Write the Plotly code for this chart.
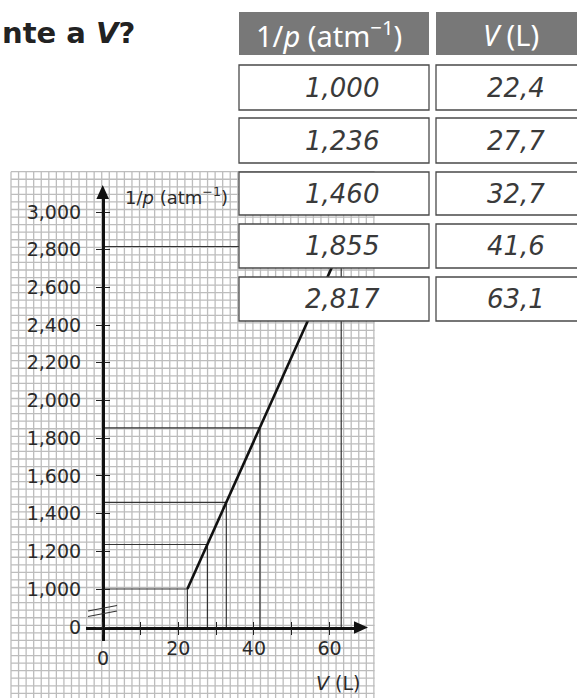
import numpy as np
import plotly.graph_objects as go

# ---------------- data ----------------
inv_p = [1.000, 1.236, 1.460, 1.855, 2.817]          # 1/p (atm^-1)
volume = [22.4, 27.7, 32.7, 41.6, 63.1]              # V (L)
y_tick_values = [0.0, 1.0, 1.2, 1.4, 1.6, 1.8, 2.0, 2.2, 2.4, 2.6, 2.8, 3.0]
x_label_values = [20, 40, 60]
x_tick_step = 10
header_labels = ["1/<i>p</i> (atm<sup>−1</sup>)", "<i>V</i> (L)"]
title_text = "nte a <i>V</i>?"
x_title = "<i>V</i> (L)"
y_title = "1/<i>p</i> (atm<sup>−1</sup>)"


def comma(v, nd):
    return f"{v:.{nd}f}".replace(".", ",")


# ---------------- geometry (pixels) ----------------
W, H = 577, 698
X0_PX = 102.7        # V = 0
PX_PER_L = 3.78
Y1_PX = 589.0        # 1/p = 1.000
PX_PER_UNIT = 188.5
XAXIS_PY = 627.5     # x axis (broken scale, label 0)


def v_of(px):
    return (px - X0_PX) / PX_PER_L


def p_of(py):
    return 1.0 + (Y1_PX - py) / PX_PER_UNIT


def fx(px):
    return px / W


def fy(py):
    return 1 - py / H


BREAK_P = p_of(XAXIS_PY)
y_tick_pos = [BREAK_P if v == 0 else v for v in y_tick_values]
y_tick_text = ["0" if v == 0 else comma(v, 3) for v in y_tick_values]

fig = go.Figure()

# ---------------- graph paper ----------------
G_LEFT, G_RIGHT, G_TOP, G_BOTTOM = 11.0, 374.5, 171.7, 698.0
G_STEP = 7.56
gx, gy = [], []
px = G_LEFT
while px <= G_RIGHT + 0.1:
    gx += [v_of(px), v_of(px), None]
    gy += [p_of(G_TOP), p_of(G_BOTTOM), None]
    px += G_STEP
py = G_TOP
while py <= G_BOTTOM + 0.1:
    gx += [v_of(G_LEFT), v_of(G_RIGHT), None]
    gy += [p_of(py), p_of(py), None]
    py += G_STEP
fig.add_trace(go.Scatter(x=gx, y=gy, mode="lines", hoverinfo="skip",
                         line=dict(color="#bdbdbd", width=1.3), showlegend=False))

# ---------------- reference lines ----------------
rx, ry = [], []
for v, p in zip(volume, inv_p):
    rx += [0, v, None, v, v, None]
    ry += [p, p, None, p, BREAK_P, None]
fig.add_trace(go.Scatter(x=rx, y=ry, mode="lines", hoverinfo="skip",
                         line=dict(color="#333333", width=1.2), showlegend=False))

# ---------------- data line ----------------
fig.add_trace(go.Scatter(x=volume, y=inv_p, mode="lines",
                         line=dict(color="#111111", width=2.6), showlegend=False))

# ---------------- axes subplot (display only) ----------------
AX_L, AX_R = 86.0, 362.0
AY_B, AY_T = 641.0, 195.0
fig.add_trace(go.Scatter(x=[None], y=[None], xaxis="x2", yaxis="y2", showlegend=False))
fig.add_trace(go.Scatter(x=[None], y=[None], xaxis="x3", yaxis="y3", showlegend=False))

tickfont = dict(family="DejaVu Sans", size=19, color="#2a2a2a")
tick_style = dict(ticklen=6, tickwidth=1.4, tickcolor="#222222")
fig.update_layout(
    width=W, height=H,
    margin=dict(l=0, r=0, t=0, b=0),
    paper_bgcolor="white",
    plot_bgcolor="rgba(0,0,0,0)",
    showlegend=False,
    xaxis=dict(domain=[0, 1], range=[v_of(0), v_of(W)], visible=False, fixedrange=True),
    yaxis=dict(domain=[0, 1], range=[p_of(H), p_of(0)], visible=False, fixedrange=True),
    xaxis2=dict(domain=[fx(AX_L), fx(AX_R)], range=[v_of(AX_L), v_of(AX_R)],
                anchor="free", position=fy(XAXIS_PY),
                showline=True, linewidth=2.6, linecolor="#111111",
                ticks="outside", **tick_style,
                tickvals=x_label_values, ticktext=[str(v) for v in x_label_values],
                tickfont=tickfont, ticklabelstandoff=-3,
                minor=dict(ticks="outside", dtick=x_tick_step, tick0=0, **tick_style),
                showgrid=False, zeroline=False),
    yaxis2=dict(domain=[fy(AY_B), fy(AY_T)], range=[p_of(AY_B), p_of(AY_T)],
                anchor="free", position=fx(X0_PX),
                showline=True, linewidth=2.6, linecolor="#111111",
                ticks="outside", **tick_style,
                tickvals=y_tick_pos, ticktext=y_tick_text, tickfont=tickfont,
                ticklabelstandoff=11, showgrid=False, zeroline=False),
    xaxis3=dict(overlaying="x2", range=[v_of(AX_L), v_of(AX_R)],
                anchor="free", position=fy(XAXIS_PY), showline=False,
                ticks="inside", **tick_style, dtick=x_tick_step, tick0=0,
                showticklabels=False, showgrid=False, zeroline=False),
    yaxis3=dict(overlaying="y2", range=[p_of(AY_B), p_of(AY_T)],
                anchor="free", position=fx(X0_PX), showline=False,
                ticks="inside", **tick_style,
                tickvals=y_tick_pos, showticklabels=False, showgrid=False, zeroline=False),
)

shapes = []
# arrowheads
shapes.append(dict(type="path", xref="paper", yref="paper", layer="above",
                   path=f"M{fx(X0_PX)},{fy(185)} L{fx(X0_PX-6.3)},{fy(199)} L{fx(X0_PX+6.3)},{fy(199)} Z",
                   fillcolor="#111111", line=dict(width=0)))
shapes.append(dict(type="path", xref="paper", yref="paper", layer="above",
                   path=f"M{fx(368)},{fy(XAXIS_PY)} L{fx(354)},{fy(XAXIS_PY-6.3)} L{fx(354)},{fy(XAXIS_PY+6.3)} Z",
                   fillcolor="#111111", line=dict(width=0)))
# axis break marks
for dy in (0, 5.5):
    shapes.append(dict(type="line", xref="paper", yref="paper", layer="above",
                       x0=fx(88), y0=fy(611 + dy), x1=fx(117), y1=fy(605.5 + dy),
                       line=dict(color="#333333", width=1.2)))

# ---------------- table ----------------
COLS = [(239, 429), (436, 600)]
HEADER_ROW = (12, 55)
ROWS = [(65, 110), (118, 163), (172, 215), (224, 268), (277, 321)]
TEXT_CX = [342, 516]
HEAD_CX = [329, 511]
for (c0, c1) in COLS:
    shapes.append(dict(type="rect", xref="paper", yref="paper", layer="above",
                       x0=fx(c0), x1=fx(c1), y0=fy(HEADER_ROW[1]), y1=fy(HEADER_ROW[0]),
                       fillcolor="#787878", line=dict(width=0)))
    for (r0, r1) in ROWS:
        shapes.append(dict(type="rect", xref="paper", yref="paper", layer="above",
                           x0=fx(c0), x1=fx(c1), y0=fy(r1), y1=fy(r0),
                           fillcolor="white", line=dict(color="#4a4a4a", width=1.3)))
fig.update_layout(shapes=shapes)

ann = []
for j, lab in enumerate(header_labels):
    ann.append(dict(xref="paper", yref="paper", x=fx(HEAD_CX[j]), y=fy(sum(HEADER_ROW) / 2 + 1),
                    text=lab, showarrow=False, xanchor="center", yanchor="middle",
                    font=dict(family="Noto Sans", size=29, color="white")))
cells = [[comma(v, 3) for v in inv_p], [comma(v, 1) for v in volume]]
for j, col in enumerate(cells):
    for (r0, r1), t in zip(ROWS, col):
        ann.append(dict(xref="paper", yref="paper", x=fx(TEXT_CX[j]), y=fy((r0 + r1) / 2),
                        text=t, showarrow=False, xanchor="center", yanchor="middle",
                        font=dict(family="DejaVu Sans", size=26, color="#3a3a3a",
                                  weight=200, style="italic")))
# title fragment
ann.append(dict(xref="paper", yref="paper", x=0, y=fy(33), text=f"<b>{title_text}</b>",
                showarrow=False, xanchor="left", yanchor="middle",
                font=dict(family="DejaVu Sans", size=29, color="#222222")))
# axis titles
ann.append(dict(xref="paper", yref="paper", x=fx(123), y=fy(196), text=y_title,
                showarrow=False, xanchor="left", yanchor="middle",
                font=dict(family="DejaVu Sans", size=18, color="#2a2a2a")))
ann.append(dict(xref="paper", yref="paper", x=fx(338), y=fy(683), text=x_title,
                showarrow=False, xanchor="center", yanchor="middle",
                font=dict(family="DejaVu Sans", size=19, color="#2a2a2a")))
# origin label of x axis
ann.append(dict(xref="paper", yref="paper", x=fx(X0_PX), y=fy(658), text="0",
                showarrow=False, xanchor="center", yanchor="middle",
                font=tickfont))
fig.update_layout(annotations=ann)

fig.write_html("out.html", config={"displayModeBar": False},
               post_script="document.body.style.margin='0';")
